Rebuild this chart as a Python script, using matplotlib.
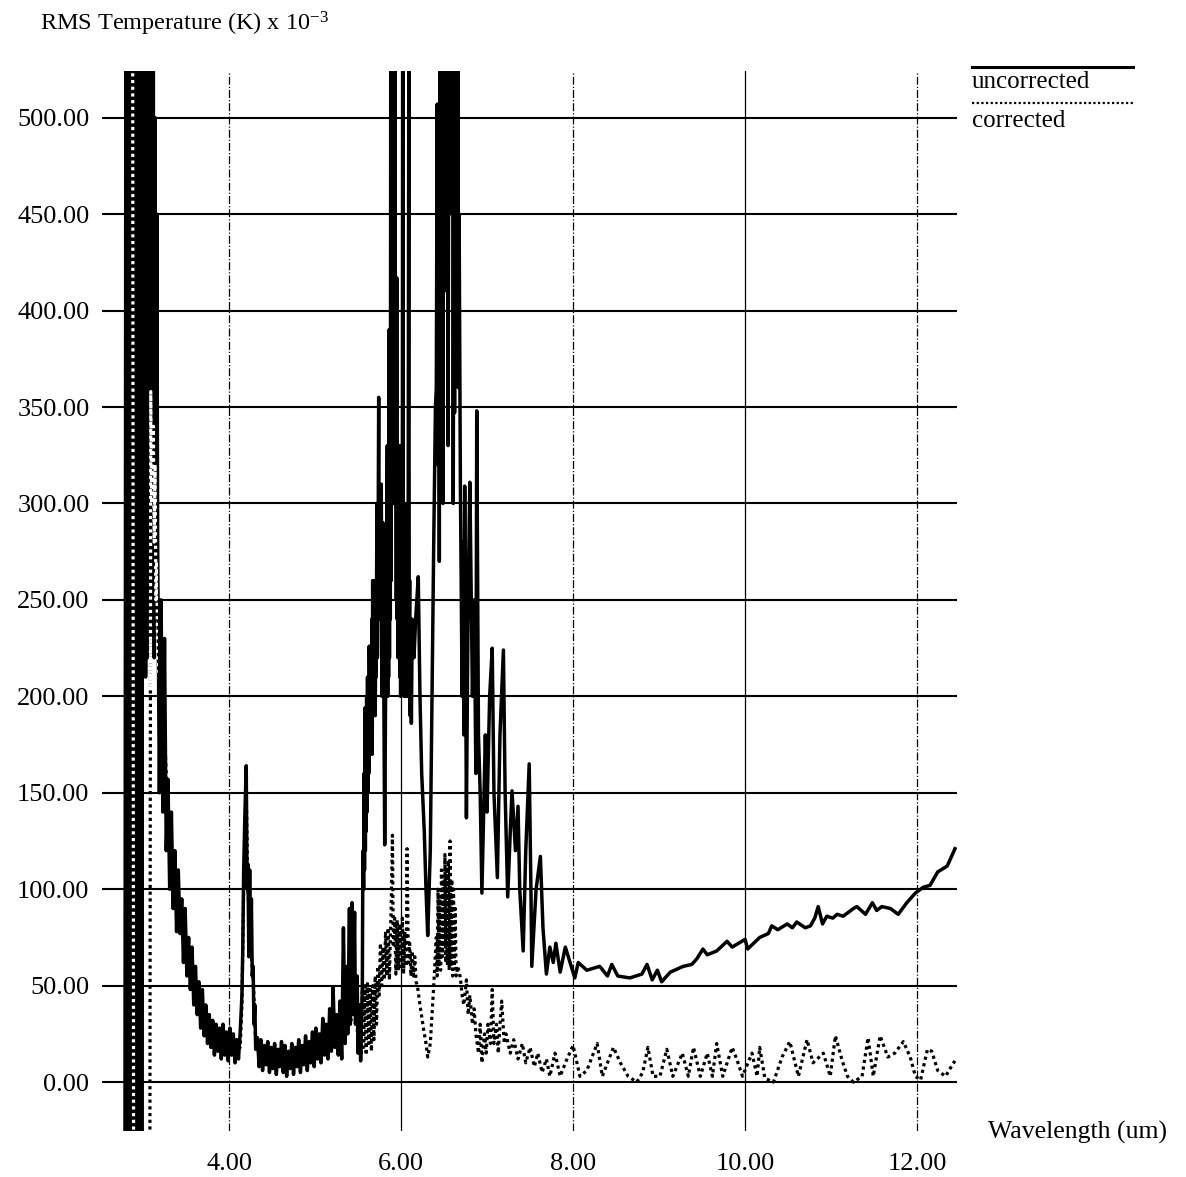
import numpy as np
import matplotlib.pyplot as plt
from matplotlib.patches import Rectangle
from matplotlib.lines import Line2D

plt.rcParams['font.family'] = 'Liberation Serif'
plt.rcParams['mathtext.default'] = 'regular'

# RMS temperature (K x 1e-3) vs wavelength (um)
# uncorrected - saturated band near 3 um
unc_bar_x = [2.79, 2.80, 2.81, 2.825, 2.835, 2.85, 2.86, 2.875, 2.885, 2.90, 2.91, 2.925, 2.935,
             2.95, 2.96, 2.975, 2.985, 3.00, 3.01, 3.02, 3.03, 3.04, 3.05, 3.06, 3.07, 3.08,
             3.09, 3.10, 3.11, 3.12, 3.13, 3.14, 3.15, 3.16]
unc_bar_y = [-30, 530, -30, 530, -30, 530, -30, 530, -30, 530, -30, 530, -30,
             530, -30, 530, -30, 530, 220, 530, 210, 530, 220, 530, 230, 530,
             240, 530, 230, 530, 220, 500, 240, 450]

# uncorrected - shoulder 3.17 to 4.13 um
unc_sh_x = [3.17, 3.19, 3.21, 3.23, 3.25, 3.27, 3.29, 3.31, 3.33, 3.35, 3.37, 3.39, 3.41, 3.43,
            3.45, 3.47, 3.49, 3.51, 3.53, 3.55, 3.57, 3.59, 3.61, 3.63, 3.65, 3.67, 3.69, 3.71,
            3.73, 3.75, 3.77, 3.79, 3.81, 3.83, 3.85, 3.87, 3.89, 3.91, 3.93, 3.95, 3.97, 3.99,
            4.01, 4.03, 4.05, 4.07, 4.09, 4.11, 4.13]
unc_sh_y = [280, 150, 250, 140, 230, 120, 157, 100, 140, 90, 120, 78, 110, 77,
            95, 62, 90, 55, 75, 48, 70, 40, 60, 35, 52, 28, 48, 24,
            40, 20, 35, 18, 32, 14, 30, 16, 28, 12, 30, 14, 26, 11,
            28, 14, 25, 10, 22, 12, 26]

# uncorrected - CO2 spike near 4.2 um
unc_co2_x = [4.15, 4.16, 4.17, 4.185, 4.20, 4.21, 4.22, 4.23, 4.24, 4.25, 4.26, 4.27, 4.28,
             4.29, 4.30, 4.31, 4.33]
unc_co2_y = [45, 70, 110, 140, 164, 100, 113, 65, 110, 68, 95, 55, 60,
             30, 40, 17, 23]

# uncorrected - window 4.35 to 5.53 um
unc_win_x = [4.35, 4.37, 4.39, 4.41, 4.43, 4.45, 4.47, 4.49, 4.51, 4.53, 4.55, 4.57, 4.59, 4.61,
             4.63, 4.65, 4.67, 4.69, 4.71, 4.73, 4.75, 4.77, 4.79, 4.81, 4.83, 4.85, 4.87, 4.89,
             4.91, 4.93, 4.95, 4.97, 4.99, 5.01, 5.03, 5.05, 5.07, 5.09, 5.11, 5.13, 5.15, 5.17,
             5.19, 5.21, 5.23, 5.25, 5.27, 5.29, 5.31, 5.33, 5.35, 5.37, 5.38, 5.40, 5.41, 5.43,
             5.44, 5.46, 5.47, 5.49, 5.50, 5.52, 5.53]
unc_win_y = [8, 22, 6, 19, 9, 21, 5, 18, 7, 20, 4, 17, 8, 21,
             5, 19, 3, 16, 7, 20, 4, 18, 8, 22, 5, 19, 9, 24,
             6, 21, 10, 26, 8, 28, 12, 25, 10, 33, 14, 30, 12, 38,
             16, 49, 18, 35, 14, 42, 12, 80, 20, 60, 25, 90, 30, 93,
             35, 88, 30, 55, 15, 40, 11]

# uncorrected - water band, rising edge 5.55 to 5.83 um
unc_w1_x = [5.55, 5.555, 5.56, 5.565, 5.57, 5.575, 5.58, 5.585, 5.59, 5.595, 5.60, 5.605, 5.61,
            5.615, 5.62, 5.625, 5.63, 5.64, 5.65, 5.655, 5.66, 5.665, 5.67, 5.675, 5.68, 5.685,
            5.69, 5.70, 5.705, 5.71, 5.72, 5.725, 5.73, 5.74, 5.745, 5.75, 5.76, 5.77, 5.78,
            5.79, 5.80, 5.81, 5.82, 5.83]
unc_w1_y = [50, 105, 120, 100, 160, 110, 194, 120, 170, 130, 200, 140, 210,
            150, 190, 160, 226, 170, 226, 180, 240, 170, 260, 190, 250, 200,
            260, 190, 230, 210, 300, 220, 240, 355, 240, 260, 240, 310, 200,
            290, 200, 123, 200, 250]

# uncorrected - water band 5.84 to 6.40 um
unc_w2_x = [5.84, 5.845, 5.85, 5.855, 5.86, 5.865, 5.87, 5.875, 5.88, 5.885, 5.89, 5.895, 5.90,
            5.905, 5.91, 5.915, 5.92, 5.925, 5.93, 5.935, 5.94, 5.945, 5.95, 5.955, 5.96, 5.965,
            5.97, 5.975, 5.98, 5.985, 5.99, 5.995, 6.00, 6.005, 6.01, 6.015, 6.02, 6.025, 6.03,
            6.035, 6.04, 6.045, 6.05, 6.055, 6.06, 6.065, 6.07, 6.08, 6.09, 6.095, 6.10, 6.105,
            6.11, 6.12, 6.13, 6.15, 6.17, 6.20, 6.22, 6.24, 6.27, 6.29, 6.31, 6.34, 6.36, 6.38,
            6.40]
unc_w2_y = [330, 200, 300, 210, 390, 220, 300, 240, 530, 260, 530, 300, 530,
            330, 530, 300, 530, 370, 530, 330, 360, 250, 417, 240, 300, 220,
            330, 230, 270, 210, 330, 200, 265, 210, 290, 230, 530, 220, 270,
            200, 300, 230, 280, 200, 250, 210, 280, 200, 530, 230, 260, 190,
            240, 186, 240, 220, 240, 262, 200, 160, 130, 100, 76, 120, 200, 280,
            350]

# uncorrected - water band peak 6.41 to 6.69 um
unc_w3_x = [6.41, 6.42, 6.43, 6.44, 6.445, 6.45, 6.457, 6.465, 6.472, 6.48, 6.487, 6.495, 6.502,
            6.51, 6.517, 6.525, 6.532, 6.54, 6.547, 6.555, 6.562, 6.57, 6.577, 6.585, 6.592,
            6.60, 6.607, 6.615, 6.622, 6.63, 6.637, 6.645, 6.652, 6.66, 6.667, 6.675, 6.69]
unc_w3_y = [360, 507, 320, 480, 270, 530, 410, 530, 395, 530, 300, 530, 410,
            530, 420, 530, 430, 530, 330, 530, 450, 530, 455, 530, 460,
            530, 300, 530, 347, 530, 400, 530, 380, 530, 360, 450, 309]

# uncorrected - water band tail 6.71 to 7.84 um
unc_w4_x = [6.71, 6.72, 6.73, 6.74, 6.76, 6.78, 6.80, 6.83, 6.85, 6.87, 6.88, 6.90, 6.92, 6.94,
            6.98, 7.00, 7.03, 7.06, 7.08, 7.12, 7.15, 7.19, 7.21, 7.24, 7.27, 7.29, 7.33, 7.36,
            7.38, 7.42, 7.45, 7.49, 7.51, 7.52, 7.57, 7.62, 7.65, 7.69, 7.73, 7.77, 7.80, 7.84]
unc_w4_y = [200, 280, 180, 309, 137, 250, 311, 200, 250, 160, 348, 180, 150, 98,
            180, 140, 200, 225, 150, 106, 180, 224, 150, 96, 130, 151, 120, 143,
            100, 68, 120, 165, 100, 60, 100, 117, 80, 56, 70, 62, 72, 60]

# uncorrected - 7.85 to 12.44 um
unc_hi_x = [7.85, 7.91, 8.02, 8.06, 8.16, 8.31, 8.40, 8.45, 8.52, 8.66, 8.80, 8.86, 8.92, 8.98,
            9.03, 9.13, 9.28, 9.38, 9.44, 9.51, 9.56, 9.67, 9.79, 9.85, 10.00, 10.03, 10.17, 10.27,
            10.31, 10.38, 10.49, 10.55, 10.60, 10.70, 10.76, 10.81, 10.85, 10.90, 10.95, 11.02,
            11.07, 11.14, 11.26, 11.30, 11.40, 11.48, 11.53, 11.59, 11.69, 11.78, 11.88, 11.98,
            12.07, 12.15, 12.24, 12.35, 12.42, 12.44]
unc_hi_y = [57, 70, 54, 62, 58, 60, 55, 61, 55, 54, 56, 61, 53, 58,
            52, 57, 60, 61, 64, 69, 66, 68, 73, 70, 74, 69, 75, 77,
            81, 79, 82, 80, 83, 80, 81, 85, 91, 82, 86, 85,
            87, 86, 90, 91, 87, 93, 89, 91, 90, 87, 93, 98,
            101, 102, 109, 112, 119, 121]

# corrected - up to 5.5 um
cor_low_x = [2.88, 2.89, 3.08, 3.09, 3.10, 3.12, 3.13, 3.14, 3.15, 3.16, 3.17, 3.21, 3.25, 3.29,
             3.33, 3.37, 3.41, 3.45, 3.49, 3.53, 3.57, 3.61, 3.65, 3.69, 3.73, 3.77, 3.81, 3.85,
             3.89, 3.93, 3.97, 4.01, 4.05, 4.09, 4.13, 4.15, 4.17, 4.20, 4.22, 4.25, 4.28, 4.31,
             4.35, 4.59, 4.83, 5.06, 5.23, 5.29, 5.35, 5.41, 5.47, 5.50]
cor_low_y = [530, -30, -30, 358, 300, 340, 280, 320, 250, 270, 220, 200, 180, 140,
             120, 100, 92, 80, 72, 62, 55, 48, 40, 36, 30, 27, 23, 22,
             20, 21, 18, 20, 18, 17, 18, 40, 100, 150, 100, 70, 55, 20,
             15, 12, 12, 18, 25, 30, 40, 30, 45, 20]

# corrected - 5.52 to 7.85 um
cor_mid_x = [5.52, 5.535, 5.55, 5.565, 5.58, 5.595, 5.61, 5.625, 5.64, 5.655, 5.67, 5.685, 5.70,
             5.715, 5.73, 5.745, 5.76, 5.775, 5.79, 5.805, 5.82, 5.835, 5.85, 5.865, 5.875, 5.885,
             5.90, 5.91, 5.925, 5.94, 5.955, 5.97, 5.985, 6.00, 6.015, 6.03, 6.045, 6.06, 6.07,
             6.085, 6.10, 6.115, 6.13, 6.145, 6.16, 6.175, 6.19,
             6.22, 6.26, 6.29, 6.31, 6.34, 6.36, 6.38, 6.41, 6.42, 6.43, 6.44, 6.45, 6.46, 6.47,
             6.48, 6.49, 6.50, 6.51, 6.52, 6.53, 6.54, 6.55, 6.56, 6.57, 6.58, 6.59, 6.60, 6.61,
             6.62, 6.63, 6.64, 6.66, 6.69,
             6.71, 6.73, 6.76, 6.78, 6.80, 6.83, 6.85, 6.87, 6.90, 6.92, 6.94, 6.97, 6.99, 7.01,
             7.04, 7.06, 7.08, 7.11, 7.13, 7.15, 7.17, 7.20, 7.22, 7.27, 7.31, 7.36, 7.41, 7.45,
             7.50, 7.55, 7.59, 7.64, 7.69, 7.73, 7.79, 7.85]
cor_mid_y = [40, 15, 48, 18, 50, 14, 51, 20, 48, 16, 50, 22, 55,
             30, 60, 45, 72, 50, 70, 53, 78, 55, 80, 53, 75, 90,
             128, 70, 85, 56, 84, 58, 82, 60, 85, 57, 78, 60, 121,
             62, 72, 55, 68, 55, 65, 52, 50,
             40, 28, 20, 13, 20, 35, 50, 75, 55, 100, 60, 95, 58, 110,
             65, 105, 70, 118, 62, 110, 60, 115, 58, 125, 60, 105, 55, 100,
             60, 90, 55, 60, 54,
             45, 40, 53, 35, 45, 30, 38, 25, 15, 30, 10, 25, 15, 30,
             20, 48, 20, 30, 15, 30, 42, 20, 25, 15, 22, 12, 20, 10,
             18, 8, 15, 5, 12, 3, 15, 3]

# corrected - 7.9 to 12.44 um
cor_hi_x = [7.92, 8.00, 8.08, 8.16, 8.28, 8.34, 8.40, 8.47, 8.55, 8.64, 8.74, 8.81, 8.87, 8.93,
            9.01, 9.09, 9.16, 9.27, 9.34, 9.40, 9.48, 9.56, 9.62, 9.67, 9.74, 9.85, 9.91, 9.97,
            10.08, 10.14, 10.17, 10.23, 10.33, 10.43, 10.52, 10.62, 10.72, 10.79, 10.91, 10.99,
            11.05, 11.13, 11.19, 11.26, 11.36, 11.43, 11.49, 11.57, 11.66, 11.74, 11.84, 11.92,
            11.98, 12.04, 12.12, 12.17, 12.24, 12.33, 12.41, 12.44]
cor_hi_y = [11, 19, 3, 6, 20, 3, 10, 18, 10, 3, 0, 5, 18, 3,
            3, 17, 3, 15, 3, 18, 3, 15, 3, 20, 3, 18, 11, 3,
            15, 3, 18, 2, 0, 13, 21, 3, 22, 10, 15, 3,
            24, 11, 3, 0, 3, 23, 3, 24, 13, 15, 21, 13,
            3, 1, 17, 16, 6, 3, 9, 11]

y_ticks = [0, 50, 100, 150, 200, 250, 300, 350, 400, 450, 500]
x_ticks = [4, 6, 8, 10, 12]
x_grid_styles = ['-.', '-', '-.', '-', '-.']

unc_x = (unc_bar_x + unc_sh_x + unc_co2_x + unc_win_x + unc_w1_x + unc_w2_x + unc_w3_x
         + unc_w4_x + unc_hi_x)
unc_y = (unc_bar_y + unc_sh_y + unc_co2_y + unc_win_y + unc_w1_y + unc_w2_y + unc_w3_y
         + unc_w4_y + unc_hi_y)
cor_x = cor_low_x + cor_mid_x + cor_hi_x
cor_y = cor_low_y + cor_mid_y + cor_hi_y

fig = plt.figure(figsize=(11.86, 11.77), dpi=100)
ax = fig.add_axes([0.086, 0.039, 0.721, 0.901])

for y in y_ticks:
    ax.axhline(y, color='black', lw=1.5, zorder=1)
for x, ls in zip(x_ticks, x_grid_styles):
    ax.axvline(x, color='black', lw=0.9, ls=ls, zorder=1)

dots = (1.0, 1.1)
ax.plot(cor_x, cor_y, color='black', lw=2.3, ls=(0, dots), zorder=2)
ax.plot(unc_x, unc_y, color='black', lw=2.5, zorder=3)

# dotted trace shows up inverted where it crosses the saturated band
for box in [(2.7, -40, 0.305, 600), (3.005, 205, 0.165, 400)]:
    w, = ax.plot(cor_x, cor_y, color='white', lw=2.3, ls=(0, dots), zorder=4)
    w.set_clip_path(Rectangle(box[:2], box[2], box[3], transform=ax.transData))

ax.set_xlim(2.523, 12.465)
ax.set_ylim(-25.4, 524.4)
ax.set_xticks(x_ticks)
ax.set_xticklabels(['%.2f' % v for v in x_ticks])
ax.set_yticks(y_ticks)
ax.set_yticklabels(['%.2f' % v for v in y_ticks])
ax.tick_params(length=0, labelsize=19)
ax.tick_params(axis='x', pad=16)
ax.tick_params(axis='y', pad=9)
for s in ax.spines.values():
    s.set_visible(False)

fig.text(40 / 1186, 1 - 24 / 1177, r'RMS Temperature (K) x 10$^{-3}$', fontsize=17.5, va='center')
fig.text(988 / 1186, 1 - 1132 / 1177, 'Wavelength (um)', fontsize=18.5, va='center')

# legend: line sample above each label
fig.add_artist(Line2D([972 / 1186, 1133 / 1186], [1 - 67 / 1177] * 2, color='black', lw=2.2))
fig.text(972 / 1186, 1 - 82 / 1177, 'uncorrected', fontsize=18, va='center')
fig.add_artist(Line2D([972 / 1186, 1133 / 1186], [1 - 103 / 1177] * 2, color='black', lw=1.6,
                      ls=(0, (1.0, 1.1))))
fig.text(972 / 1186, 1 - 121 / 1177, 'corrected', fontsize=18, va='center')

fig.savefig('out.png', dpi=100)
